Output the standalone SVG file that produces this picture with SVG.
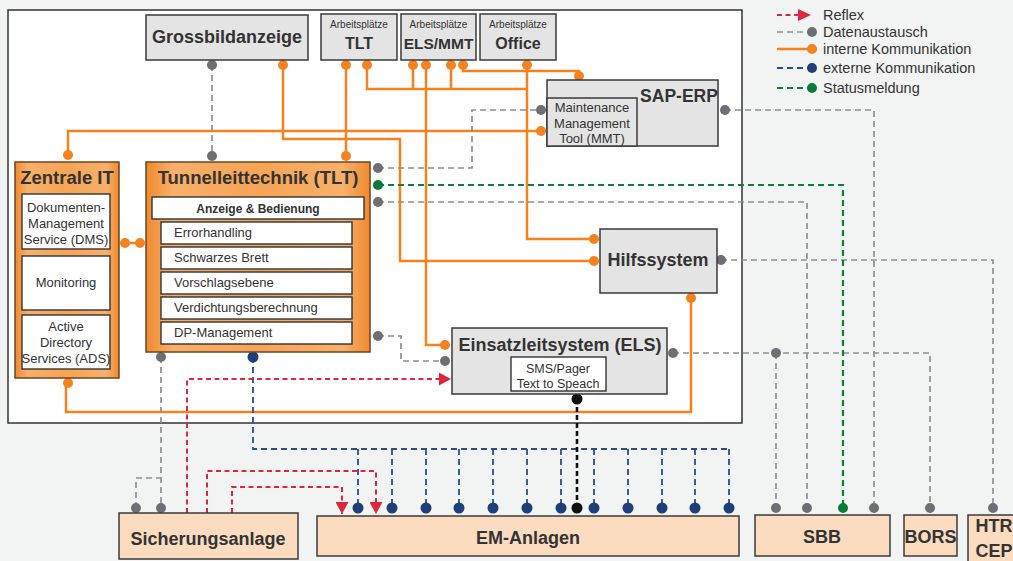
<svg xmlns="http://www.w3.org/2000/svg" width="1013" height="561" viewBox="0 0 1013 561">
<defs>
<linearGradient id="og" x1="0" y1="0" x2="1" y2="0">
<stop offset="0" stop-color="#ef8a2e"/>
<stop offset="0.12" stop-color="#f8b06a"/>
<stop offset="0.5" stop-color="#f6a455"/>
<stop offset="0.88" stop-color="#f8b06a"/>
<stop offset="1" stop-color="#ef8a2e"/>
</linearGradient>
<marker id="ar" markerUnits="userSpaceOnUse" markerWidth="13" markerHeight="13" refX="12" refY="6.5" orient="auto">
<path d="M0,0 L12,6.5 L0,13 Z" fill="#e0263c"/>
</marker>
</defs>
<style>
.box{stroke:#3a3a3a;stroke-width:1.5}
.grey{fill:#e5e4e4}
.org{fill:url(#og);stroke:#6a4520}
.peach{fill:#fbdcc0}
.inner{fill:#fff;stroke:#333;stroke-width:1.4}
.t{font-family:"Liberation Sans",Arial,sans-serif;fill:#333}
.b{font-weight:bold}
.c{text-anchor:middle}
.or{stroke:#f5821f;stroke-width:2.5;fill:none}
.gd{stroke:#8f8f8f;stroke-width:1.7;stroke-dasharray:6 4;fill:none}
.gn{stroke:#0c7f3e;stroke-width:2.2;stroke-dasharray:6 4;fill:none}
.nv{stroke:#2a4d86;stroke-width:1.8;stroke-dasharray:6 4;fill:none}
.rd{stroke:#e0263c;stroke-width:2;stroke-dasharray:5 3.5;fill:none}
.bk{stroke:#111;stroke-width:2.6;stroke-dasharray:5 3;fill:none}
.do{fill:#f5821f}
.dg{fill:#6e6e74}
.dn{fill:#1e3f78}
.dgr{fill:#0a7a3a}
.dk{fill:#111}
</style>
<rect x="0" y="0" width="1013" height="561" fill="#f1f4f3"/>
<rect x="8" y="10" width="734" height="413" fill="#fff" stroke="#333" stroke-width="1.5"/>

<g id="connectors">
<!-- interne Kommunikation -->
<path class="or" d="M68,155 V131 H541"/>
<path class="or" d="M283,65 V139 H400 V261 H594"/>
<path class="or" d="M346,65 V156"/>
<path class="or" d="M367,65 V89 H527 M413,65 V89 M451,65 V89"/>
<path class="or" d="M527,65 V239 H594"/>
<path class="or" d="M426,65 V345 H445"/>
<path class="or" d="M463,65 V71 H579 V76"/>
<path class="or" d="M125,243 H140"/>
<path class="or" d="M66,383 V412 H691 V298"/>
<!-- Datenaustausch -->
<path class="gd" d="M212,65 V156"/>
<path class="gd" d="M378,168 H472 V110 H541"/>
<path class="gd" d="M378,202 H807 V508"/>
<path class="gd" d="M725,110 H874 V508"/>
<path class="gd" d="M721,260 H993 V508"/>
<path class="gd" d="M673,353 H930 V508 M776,353 V508"/>
<path class="gd" d="M378,336 H401 V361 H445"/>
<path class="gd" d="M161,357 V508 M136,508 V478 H161"/>
<!-- Statusmeldung -->
<path class="gn" d="M378,185 H843 V508"/>
<!-- externe Kommunikation -->
<path class="nv" d="M253,357 V449 H729 M358,449 V508 M392,449 V508 M426,449 V508 M459,449 V508 M493,449 V508 M527,449 V508 M561,449 V508 M594,449 V508 M628,449 V508 M662,449 V508 M695,449 V508 M729,449 V508"/>
<!-- SMS black -->
<path class="bk" d="M577,399 V508"/>
<!-- Reflex -->
<path class="rd" d="M187,513 V379 H451" marker-end="url(#ar)"/>
<path class="rd" d="M207,513 V471 H376 V514" marker-end="url(#ar)"/>
<path class="rd" d="M232,513 V487 H342 V514" marker-end="url(#ar)"/>
<!-- dots -->
<g class="do">
<circle cx="283" cy="65" r="5"/><circle cx="346" cy="65" r="5"/><circle cx="367" cy="65" r="5"/>
<circle cx="413" cy="65" r="5"/><circle cx="426" cy="65" r="5"/><circle cx="451" cy="65" r="5"/>
<circle cx="463" cy="65" r="5"/><circle cx="527" cy="65" r="5"/><circle cx="579" cy="76" r="5"/>
<circle cx="541" cy="131" r="5"/><circle cx="68" cy="155" r="5"/><circle cx="346" cy="156" r="5"/>
<circle cx="125" cy="243" r="5"/><circle cx="140" cy="243" r="5"/><circle cx="594" cy="239" r="5"/>
<circle cx="594" cy="261" r="5"/><circle cx="445" cy="345" r="5"/><circle cx="691" cy="298" r="5"/>
<circle cx="68" cy="383" r="5"/>
</g>
<g class="dg">
<circle cx="212" cy="65" r="5"/><circle cx="212" cy="156" r="5"/><circle cx="378" cy="168" r="5"/>
<circle cx="378" cy="202" r="5"/><circle cx="541" cy="110" r="5"/><circle cx="725" cy="110" r="5"/>
<circle cx="721" cy="260" r="5"/><circle cx="673" cy="353" r="5"/><circle cx="776" cy="353" r="5"/>
<circle cx="378" cy="336" r="5"/><circle cx="445" cy="361" r="5"/><circle cx="161" cy="357" r="5"/>
<circle cx="136" cy="508" r="5"/><circle cx="161" cy="508" r="5"/><circle cx="776" cy="508" r="5"/>
<circle cx="807" cy="508" r="5"/><circle cx="874" cy="508" r="5"/><circle cx="930" cy="508" r="5"/>
<circle cx="993" cy="508" r="5"/>
</g>
<g class="dgr"><circle cx="378" cy="185" r="5"/><circle cx="843" cy="508" r="5"/></g>
<g class="dn">
<circle cx="253" cy="357" r="5.5"/>
<circle cx="358" cy="508" r="5.5"/><circle cx="392" cy="508" r="5.5"/><circle cx="426" cy="508" r="5.5"/>
<circle cx="459" cy="508" r="5.5"/><circle cx="493" cy="508" r="5.5"/><circle cx="527" cy="508" r="5.5"/>
<circle cx="561" cy="508" r="5.5"/><circle cx="594" cy="508" r="5.5"/><circle cx="628" cy="508" r="5.5"/>
<circle cx="662" cy="508" r="5.5"/><circle cx="695" cy="508" r="5.5"/><circle cx="729" cy="508" r="5.5"/>
</g>
<g class="dk"><circle cx="577" cy="399" r="5.5"/><circle cx="577" cy="508" r="5.5"/></g>
</g>

<g id="grossbildanzeige">
<rect class="box grey" x="146" y="15" width="162" height="45"/>
<text class="t b c" x="227" y="43" font-size="18">Grossbildanzeige</text>
</g>
<g id="ap-tlt">
<rect class="box grey" x="321" y="14" width="76" height="46"/>
<text class="t c" x="359" y="28" font-size="10">Arbeitsplätze</text>
<text class="t b c" x="359" y="49" font-size="16">TLT</text>
</g>
<g id="ap-els-mmt">
<rect class="box grey" x="401" y="14" width="75" height="46"/>
<text class="t c" x="438.5" y="28" font-size="10">Arbeitsplätze</text>
<text class="t b c" x="438.5" y="49" font-size="15.5">ELS/MMT</text>
</g>
<g id="ap-office">
<rect class="box grey" x="480" y="14" width="76" height="46"/>
<text class="t c" x="518" y="28" font-size="10">Arbeitsplätze</text>
<text class="t b c" x="518" y="49" font-size="16">Office</text>
</g>

<g id="sap-erp">
<rect class="box grey" x="547" y="80" width="171" height="66"/>
<text class="t b c" x="679" y="102" font-size="17.5">SAP-ERP</text>
<rect class="box grey" x="547" y="98" width="90" height="48"/>
<text class="t c" x="592" y="112" font-size="13">Maintenance</text>
<text class="t c" x="592" y="128" font-size="13">Management</text>
<text class="t c" x="592" y="143" font-size="13">Tool (MMT)</text>
</g>

<g id="zentrale-it">
<rect class="box org" x="15" y="162" width="104" height="216"/>
<text class="t b c" x="67" y="184" font-size="18.5">Zentrale IT</text>
<rect class="inner" x="22" y="194" width="88" height="55"/>
<text class="t c" x="66" y="212" font-size="13">Dokumenten-</text>
<text class="t c" x="66" y="228" font-size="13">Management</text>
<text class="t c" x="66" y="244" font-size="13">Service (DMS)</text>
<rect class="inner" x="22" y="256" width="88" height="54"/>
<text class="t c" x="66" y="287" font-size="13">Monitoring</text>
<rect class="inner" x="22" y="315" width="88" height="54"/>
<text class="t c" x="66" y="331" font-size="13">Active</text>
<text class="t c" x="66" y="347" font-size="13">Directory</text>
<text class="t c" x="66" y="363" font-size="13">Services (ADS)</text>
</g>

<g id="tlt">
<rect class="box org" x="146" y="162" width="224" height="190"/>
<text class="t b c" x="258" y="184" font-size="18.5">Tunnelleittechnik (TLT)</text>
<rect class="inner" x="152" y="197" width="212" height="22"/>
<text class="t b c" x="258" y="213" font-size="12">Anzeige &amp; Bedienung</text>
<rect class="inner" x="161" y="222" width="191" height="22"/>
<text class="t" x="174" y="237" font-size="13">Errorhandling</text>
<rect class="inner" x="161" y="247" width="191" height="22"/>
<text class="t" x="174" y="262" font-size="13">Schwarzes Brett</text>
<rect class="inner" x="161" y="272" width="191" height="22"/>
<text class="t" x="174" y="287" font-size="13">Vorschlagsebene</text>
<rect class="inner" x="161" y="297" width="191" height="22"/>
<text class="t" x="174" y="312" font-size="13">Verdichtungsberechnung</text>
<rect class="inner" x="161" y="322" width="191" height="22"/>
<text class="t" x="174" y="337" font-size="13">DP-Management</text>
</g>

<g id="hilfssystem">
<rect class="box grey" x="600" y="229" width="117" height="64"/>
<text class="t b c" x="658" y="266" font-size="18">Hilfssystem</text>
</g>

<g id="els">
<rect class="box grey" x="452" y="328" width="215" height="66"/>
<text class="t b c" x="560" y="351" font-size="18">Einsatzleitsystem (ELS)</text>
<rect class="inner" x="511" y="357" width="95" height="34"/>
<text class="t c" x="558" y="373" font-size="12.5">SMS/Pager</text>
<text class="t c" x="558" y="388" font-size="12.5">Text to Speach</text>
</g>

<g id="sicherungsanlage">
<rect class="box peach" x="119" y="513" width="179" height="46"/>
<text class="t b c" x="208" y="545" font-size="18">Sicherungsanlage</text>
</g>
<g id="em-anlagen">
<rect class="box peach" x="317" y="516" width="422" height="40"/>
<text class="t b c" x="528" y="544" font-size="18">EM-Anlagen</text>
</g>
<g id="sbb">
<rect class="box peach" x="755" y="515" width="135" height="41"/>
<text class="t b c" x="822" y="543" font-size="18">SBB</text>
</g>
<g id="bors">
<rect class="box peach" x="904" y="515" width="53" height="41"/>
<text class="t b c" x="930.5" y="543" font-size="18">BORS</text>
</g>
<g id="htr-cep">
<rect class="box peach" x="968" y="515" width="50" height="50"/>
<text class="t b c" x="994" y="532" font-size="18">HTR</text>
<text class="t b c" x="994" y="557" font-size="18">CEP</text>
</g>

<g id="legend">
<path class="rd" d="M777,15 H800"/>
<path d="M798,9 L811,15 L798,21 Z" fill="#e0263c"/>
<text class="t" x="823" y="20" font-size="14.5">Reflex</text>
<path class="gd" d="M777,32 H808"/>
<circle class="dg" cx="812" cy="32" r="5" fill="#8a8a8a"/>
<text class="t" x="823" y="37" font-size="14.5">Datenaustausch</text>
<path class="or" d="M777,49 H808"/>
<circle class="do" cx="812" cy="49" r="5"/>
<text class="t" x="823" y="54" font-size="14.5">interne Kommunikation</text>
<path class="nv" d="M777,68 H808"/>
<circle class="dn" cx="812" cy="68" r="5"/>
<text class="t" x="823" y="73" font-size="14.5">externe Kommunikation</text>
<path class="gn" d="M777,88 H808"/>
<circle class="dgr" cx="812" cy="88" r="5"/>
<text class="t" x="823" y="93" font-size="14.5">Statusmeldung</text>
</g>
</svg>
